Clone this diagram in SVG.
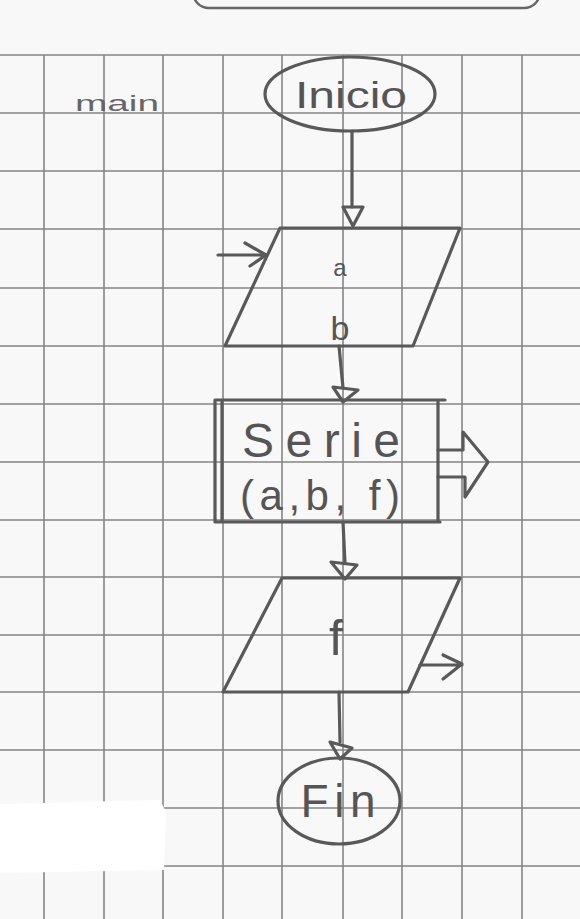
<svg xmlns="http://www.w3.org/2000/svg" width="580" height="919" viewBox="0 0 580 919">
<defs>
<style>
.grid line{stroke:#858585;stroke-width:1.6}
.pen{fill:none;stroke:#595959;stroke-width:3.2;stroke-linecap:round;stroke-linejoin:round}
.thin{fill:none;stroke:#666;stroke-width:2.4;stroke-linecap:round;stroke-linejoin:round}
.hand{font-family:"Liberation Sans","DejaVu Sans",sans-serif;fill:#555;text-anchor:middle}
</style>
</defs>
<rect x="0" y="0" width="580" height="919" fill="#f8f8f8"/>
<g id="grid" class="grid">
<line x1="44" y1="55" x2="44" y2="919"/>
<line x1="104" y1="55" x2="104" y2="919"/>
<line x1="163" y1="55" x2="163" y2="919"/>
<line x1="223" y1="55" x2="223" y2="919"/>
<line x1="282" y1="55" x2="282" y2="919"/>
<line x1="343" y1="55" x2="343" y2="919"/>
<line x1="402" y1="55" x2="402" y2="919"/>
<line x1="462" y1="55" x2="462" y2="919"/>
<line x1="522" y1="55" x2="522" y2="919"/>
<line x1="0" y1="55" x2="580" y2="55"/>
<line x1="0" y1="113" x2="580" y2="113"/>
<line x1="0" y1="171" x2="580" y2="171"/>
<line x1="0" y1="229" x2="580" y2="229"/>
<line x1="0" y1="288" x2="580" y2="288"/>
<line x1="0" y1="346" x2="580" y2="346"/>
<line x1="0" y1="404" x2="580" y2="404"/>
<line x1="0" y1="462" x2="580" y2="462"/>
<line x1="0" y1="520" x2="580" y2="520"/>
<line x1="0" y1="577" x2="580" y2="577"/>
<line x1="0" y1="635" x2="580" y2="635"/>
<line x1="0" y1="692" x2="580" y2="692"/>
<line x1="0" y1="750" x2="580" y2="750"/>
<line x1="0" y1="808" x2="580" y2="808"/>
<line x1="0" y1="866" x2="580" y2="866"/>
</g>
<path d="M0,804 L160,800 L166,812 L164,870 L0,873 Z" fill="#ffffff"/>
<rect id="top-frame" x="193" y="-30" width="347" height="38" rx="16" class="thin"/>
<g id="main-label">
<text class="hand" x="117" y="111" font-size="22" textLength="84" lengthAdjust="spacingAndGlyphs" style="fill:#666">main</text>
</g>
<g id="inicio">
<ellipse cx="350" cy="94" rx="85" ry="37" class="pen"/>
<text class="hand" x="351" y="108" font-size="36" textLength="112" lengthAdjust="spacingAndGlyphs">Inicio</text>
</g>
<g id="input-ab">
<path d="M280,228 H460 L413,346 H225 Z" class="pen"/>
<text class="hand" x="340" y="276" font-size="24">a</text>
<text class="hand" x="340" y="340" font-size="34">b</text>
<path d="M218,255 H266 M245,243 L266,255 L250,266" class="pen"/>
</g>
<g id="serie">
<path d="M215,400 H445 M215,522 H440 M215,400 V522 M222,402 V520 M438,402 V521" class="pen"/>
<text class="hand" x="321" y="457" font-size="48" textLength="158" lengthAdjust="spacing">Serie</text>
<text class="hand" x="320" y="510" font-size="42" textLength="160" lengthAdjust="spacing">(a,b, f)</text>
<path d="M438,450 H463 V432 L488,462 L465,497 V477 H438" class="pen"/>
</g>
<g id="output-f">
<path d="M282,578 H460 L408,692 H223 Z" class="pen"/>
<text class="hand" x="336" y="655" font-size="50">f</text>
<path d="M420,665 H462 M443,655 L462,664 L443,679" class="pen"/>
</g>
<g id="fin">
<ellipse cx="339" cy="801" rx="61" ry="43" class="pen"/>
<text class="hand" x="338" y="817" font-size="46" textLength="75" lengthAdjust="spacing">Fin</text>
</g>
<g id="connectors">
<path d="M352,131 V207" class="pen"/>
<path d="M343,207 H363 L353,226 Z" class="pen"/>
<path d="M339,346 L343,388" class="pen"/>
<path d="M333,387 L358,390 L343,402 Z" class="pen"/>
<path d="M343,522 L345,563" class="pen"/>
<path d="M331,562 L357,565 L345,579 Z" class="pen"/>
<path d="M339,692 L340,742" class="pen"/>
<path d="M330,742 L352,748 L340,759 Z" class="pen"/>
</g>
</svg>
